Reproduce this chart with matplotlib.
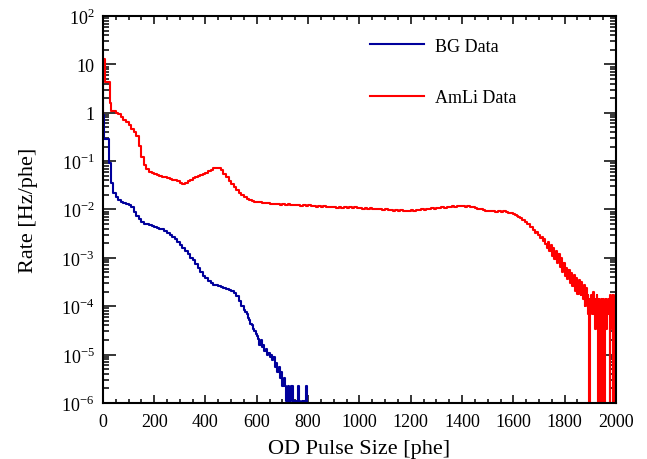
import matplotlib
matplotlib.use("Agg")
import matplotlib.pyplot as plt
import numpy as np

# AmLi data: left bin edges [phe] and rates [Hz/phe]
amli_x = [0, 0.5, 4, 9, 26,
          30, 40, 50, 60, 70, 80, 90, 100, 110, 120, 130, 140, 150, 160, 170, 180, 190,
          200, 210, 220, 230, 240, 250, 260, 270, 280, 290, 300, 310, 320, 330, 340, 350,
          360, 370, 380, 390, 400, 410, 420, 430, 440, 450, 460, 470, 480, 490, 500, 510,
          520, 530, 540, 550, 560, 570, 580, 590, 600, 610, 620, 630, 640, 650,
          660, 670, 680, 690, 700, 710, 720, 730, 740, 750, 760, 770, 780, 790,
          800, 810, 820, 830, 840, 850, 860, 870, 880, 890, 900, 910, 920, 930, 940, 950,
          960, 970, 980, 990, 1000, 1010, 1020, 1030, 1040, 1050, 1060, 1070, 1080, 1090,
          1100, 1110, 1120, 1130, 1140, 1150, 1160, 1170, 1180, 1190, 1200, 1210, 1220,
          1230, 1240, 1250, 1260, 1270, 1280, 1290, 1300, 1310, 1320, 1330, 1340, 1350,
          1360, 1370, 1380, 1390, 1400, 1410, 1420, 1430, 1440, 1450, 1460, 1470, 1480,
          1490, 1500, 1510, 1520, 1530, 1540, 1550, 1560, 1570, 1580, 1590,
          1600, 1605, 1610, 1615, 1620, 1625, 1630, 1635, 1640, 1645, 1650, 1655, 1660,
          1665, 1670, 1675, 1680, 1685, 1690, 1695, 1700, 1705, 1710, 1715, 1720, 1725,
          1730, 1735, 1740, 1745, 1750, 1755, 1760, 1765, 1770, 1775, 1780, 1785, 1790,
          1795, 1800, 1805, 1810, 1815, 1820, 1825, 1830, 1835, 1840, 1845, 1850, 1855,
          1860, 1862.5, 1865, 1867.5, 1870, 1872.5, 1875, 1877.5, 1880, 1882.5, 1885,
          1887.5, 1890, 1892.5, 1895, 1897.5, 1900, 1902.5, 1905, 1907.5, 1910, 1912.5,
          1915, 1917.5, 1920, 1922.5, 1925, 1927.5, 1930, 1932.5, 1935, 1937.5, 1940,
          1942.5, 1945, 1947.5, 1950, 1952.5, 1955, 1957.5, 1960, 1962.5, 1965, 1967.5,
          1970, 1972.5, 1975, 1977.5, 1980, 1982.5, 1985, 1987.5, 1990, 1992.5, 1995,
          1997.5]
amli_y = [1.0, 4.5, 13, 4.3, 1.6,
          1.1, 1.1, 1.0, 0.93, 0.82, 0.72, 0.63, 0.55, 0.47, 0.40, 0.33, 0.21, 0.12, 0.085,
          0.068, 0.060, 0.056,
          0.053, 0.051, 0.049, 0.048, 0.046, 0.045, 0.043, 0.041, 0.040, 0.038, 0.035,
          0.034, 0.035, 0.038, 0.041, 0.044,
          0.047, 0.050, 0.052, 0.055, 0.057, 0.061, 0.066, 0.071, 0.073, 0.072, 0.066,
          0.055, 0.046, 0.039, 0.034, 0.029,
          0.025, 0.022, 0.020, 0.018, 0.0168, 0.0160, 0.0152, 0.0146, 0.0143, 0.0140,
          0.0138, 0.0135, 0.0133, 0.0131,
          0.0130, 0.0127, 0.0131, 0.0126, 0.0128, 0.0124, 0.0127, 0.0122, 0.0125, 0.0121,
          0.0124, 0.0119, 0.0122, 0.0118,
          0.0121, 0.0116, 0.0119, 0.0114, 0.0117, 0.0113, 0.0116, 0.0111, 0.0114, 0.0110,
          0.0113, 0.0109, 0.0112, 0.0108, 0.0111, 0.0107,
          0.0112, 0.0108, 0.0110, 0.0106, 0.0109, 0.0104, 0.0107, 0.0103, 0.0106, 0.0101,
          0.0104, 0.0100, 0.0102, 0.0098,
          0.0100, 0.0096, 0.0099, 0.0094, 0.0097, 0.0093, 0.0096, 0.0092, 0.0095, 0.0093,
          0.0096, 0.0094, 0.0098,
          0.0096, 0.0100, 0.0098, 0.0102, 0.0101, 0.0105, 0.0104, 0.0108, 0.0106, 0.0110,
          0.0109, 0.0113, 0.0111,
          0.0116, 0.0114, 0.0118, 0.0116, 0.0119, 0.0115, 0.0117, 0.0112, 0.0110, 0.0106,
          0.0103, 0.0100, 0.0098,
          0.0095, 0.0094, 0.0091, 0.0093, 0.0090, 0.0092, 0.0089, 0.0091, 0.0088, 0.0086,
          0.0083,
          0.0080, 0.0077, 0.0075, 0.0072, 0.0070, 0.0066, 0.0065, 0.0060, 0.0060, 0.0055,
          0.0055, 0.0049, 0.0049,
          0.0043, 0.0043, 0.0038, 0.0038, 0.0033, 0.0034, 0.0029, 0.0030, 0.0026, 0.0027,
          0.0022, 0.0025, 0.0019,
          0.0016, 0.0021, 0.0014, 0.0018, 0.0011, 0.0016, 0.00095, 0.0014, 0.00078, 0.0012,
          0.00064, 0.00098, 0.00052,
          0.00078, 0.00042, 0.00062, 0.00036, 0.00055, 0.00030, 0.00048, 0.00026, 0.00044,
          0.00021, 0.00038, 0.00018, 0.00034,
          2.7e-4, 1.7e-4, 3.1e-4, 2.0e-4, 2.4e-4, 1.4e-4, 2.7e-4, 1.0e-4, 2.0e-4, 1.4e-4,
          2.4e-4, 1.0e-4, 1.7e-4, 6.8e-5, 0, 1.4e-4, 6.8e-5, 1.7e-4, 1.0e-4, 1.4e-4,
          6.8e-5, 2.0e-4, 1.0e-4, 1.4e-4, 3.4e-5, 1.0e-4, 1.7e-4, 6.8e-5, 0, 1.4e-4,
          1.0e-4, 0, 6.8e-5, 1.4e-4, 0, 1.0e-4, 1.4e-4, 6.8e-5, 0, 1.0e-4,
          1.4e-4, 3.4e-5, 1.0e-4, 6.8e-5, 1.4e-4, 1.0e-4, 0, 1.7e-4, 6.8e-5, 1.4e-4,
          3.4e-5, 1.7e-4, 0, 1.4e-4, 1.0e-4, 1.7e-4]

# BG data
bg_x = [0, 5, 25,
        30, 40, 50, 60, 70, 80, 90, 100, 110, 120, 130, 140, 150, 160, 170, 180, 190,
        200, 210, 220, 230, 240, 250, 260, 270, 280, 290, 300, 310, 320, 330, 340, 350,
        360, 370, 380, 390, 400, 410, 420, 430, 440, 450, 460, 470, 480, 490, 500, 510,
        520, 530, 540, 550, 555, 560, 565, 570, 575, 580, 585, 590, 595, 600, 605, 610,
        615, 620, 625, 630, 635, 640, 645, 650, 655, 660, 665, 670, 675, 680, 685, 690,
        695, 700, 705, 710, 715, 720, 725, 730, 735, 740, 745, 750, 755, 760, 765, 770,
        775, 780, 785, 790, 795]
bg_y = [0.9, 0.28, 0.09,
        0.035, 0.022, 0.018, 0.016, 0.0145, 0.0135, 0.013, 0.0125, 0.011, 0.0088, 0.0072,
        0.0062, 0.0055, 0.0051, 0.0049, 0.0047, 0.0046,
        0.0044, 0.0042, 0.0040, 0.0039, 0.0036, 0.0033, 0.0030, 0.0027, 0.0024, 0.0021,
        0.0018, 0.0016, 0.0014, 0.0012, 0.0010, 0.00088,
        0.00075, 0.00063, 0.00052, 0.00043, 0.00038, 0.00033, 0.00030, 0.00028, 0.00027,
        0.00026, 0.00025, 0.00024, 0.00023, 0.00022, 0.00021, 0.00019,
        0.00016, 0.00013, 0.00010, 8.5e-5, 7.5e-5, 6.8e-5, 5.6e-5, 5.2e-5, 4.3e-5, 4.0e-5,
        3.3e-5, 3.0e-5, 2.6e-5, 2.4e-5, 2.1e-5, 1.6e-5,
        2.0e-5, 1.4e-5, 1.6e-5, 1.2e-5, 1.3e-5, 1.0e-5, 1.1e-5, 8.8e-6, 9.9e-6, 7.7e-6,
        8.8e-6, 5.5e-6, 6.6e-6, 4.4e-6, 5.5e-6, 3.3e-6,
        4.4e-6, 2.2e-6, 3.3e-6, 2.2e-6, 1.1e-6, 2.2e-6, 0, 1.1e-6, 2.2e-6, 0, 1.1e-6,
        1.1e-6, 0, 2.2e-6, 1.1e-6, 0,
        1.1e-6, 0, 1.1e-6, 2.2e-6, 0]

y_ticks = [1e-6, 1e-5, 1e-4, 1e-3, 1e-2, 1e-1, 1, 10, 100]
y_labels = ['10$^{-6}$', '10$^{-5}$', '10$^{-4}$', '10$^{-3}$', '10$^{-2}$',
            '10$^{-1}$', '1', '10', '10$^{2}$']

plt.rcParams['font.family'] = ['Liberation Serif', 'DejaVu Serif']
plt.rcParams['mathtext.fontset'] = 'custom'
plt.rcParams['mathtext.rm'] = 'Liberation Serif'


def bins(x, y, last_edge):
    # close the last bin and push empty bins below the axis
    xe = np.append(np.array(x, dtype=float), last_edge)
    ye = np.array(y, dtype=float)
    ye = np.where(ye > 0, ye, 1e-9)
    ye = np.append(ye, ye[-1])
    return xe, ye


fig = plt.figure(figsize=(6.47, 4.60), dpi=100)
ax = fig.add_axes([0.159, 0.122, 0.793, 0.841])

bx, by = bins(bg_x, bg_y, 800)
rx, ry = bins(amli_x, amli_y, 2000)
ax.step(bx, by, where='post', color='#00009c', lw=1.5, label='BG Data')
ax.step(rx, ry, where='post', color='#ff0000', lw=1.5, label='AmLi Data')

ax.set_yscale('log')
ax.set_xlim(0, 2000)
ax.set_ylim(1e-6, 1e2)
ax.set_yticks(y_ticks)
ax.set_yticklabels(y_labels)
ax.yaxis.set_minor_locator(matplotlib.ticker.LogLocator(base=10, subs=np.arange(2, 10)))
ax.yaxis.set_minor_formatter(matplotlib.ticker.NullFormatter())
ax.set_xticks(np.arange(0, 2001, 200))
ax.xaxis.set_minor_locator(matplotlib.ticker.MultipleLocator(50))

ax.tick_params(which='both', direction='in', top=True, right=True, width=1.1,
               labelsize=13)
ax.tick_params(axis='x', which='major', length=6, pad=7)
ax.tick_params(axis='x', which='minor', length=3)
ax.tick_params(axis='y', which='major', length=9, pad=6)
ax.tick_params(axis='y', which='minor', length=4.5)
for s in ax.spines.values():
    s.set_linewidth(1.5)

ax.set_xlabel('OD Pulse Size [phe]', fontsize=16, labelpad=7)
ax.set_ylabel('Rate [Hz/phe]', fontsize=16, labelpad=17)

ax.legend(loc='upper left', bbox_to_anchor=(0.52, 0.944), frameon=False,
          fontsize=13, handlelength=3.0, handletextpad=0.6, labelspacing=1.9,
          borderpad=0, borderaxespad=0)

plt.savefig('out.png', dpi=100)
